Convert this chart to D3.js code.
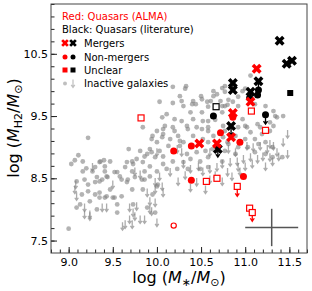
<!DOCTYPE html>
<html>
<head>
<meta charset="utf-8">
<script src="https://cdn.jsdelivr.net/npm/d3@7"></script>
<style>
  body { margin: 0; background: #fff; }
  svg text { font-family: "DejaVu Sans", sans-serif; }
</style>
</head>
<body>
<div id="chart"></div>
<script>
// inactive galaxies (detections), [log M*, log MH2]
let grayCircles = [
  [10.18,9.97],[10.33,9.98],[10.03,9.73],[10.18,9.71],[10.28,9.74],[10.41,9.74],[10.50,9.82],[10.51,9.77],
  [10.44,9.69],[10.57,9.73],[11.06,10.15],[10.77,9.98],[10.74,9.95],[10.77,9.89],[10.64,9.90],[10.68,9.85],
  [10.97,9.90],[10.92,9.81],[11.00,9.94],[10.61,9.74],[10.72,9.74],[10.81,9.76],[10.77,9.66],[10.86,9.73],
  [11.11,9.69],[10.64,9.82],[10.26,9.82],[10.32,9.94],[10.30,9.66],[10.40,9.69],[10.38,9.56],[10.51,9.56],
  [10.58,9.65],[10.74,9.66],[10.80,9.68],[10.92,9.66],[11.23,9.66],[11.32,9.58],[11.34,9.50],[10.11,9.53],
  [10.06,9.48],[10.20,9.45],[10.28,9.42],[10.41,9.45],[10.52,9.42],[10.66,9.44],[10.58,9.32],[10.45,9.32],
  [10.34,9.34],[10.18,9.32],[10.09,9.34],[10.00,9.26],[9.95,9.18],[10.07,9.21],[10.15,9.13],[10.24,9.18],
  [10.30,9.08],[10.52,9.13],[10.77,9.26],[10.92,9.32],[11.02,9.32],[11.14,9.37],[11.06,9.24],[11.19,9.21],
  [11.28,9.26],[11.32,9.34],[11.11,9.13],[11.00,9.13],[10.89,9.18],[10.80,9.08],[10.58,9.08],[10.13,9.02],
  [10.00,9.08],[9.84,9.32],[10.07,9.29],[10.20,9.26],[10.35,9.29],[10.51,9.29],[10.06,9.16],[10.26,9.10],
  [10.41,9.18],[9.94,9.13],[10.26,9.02],[9.81,8.94],[9.92,8.97],[10.03,8.94],[9.86,8.85],[9.98,8.84],
  [10.07,8.85],[10.34,8.89],[10.45,8.92],[10.55,8.94],[9.77,8.81],[9.73,8.73],[9.84,8.76],[9.92,8.69],
  [10.07,8.73],[10.18,8.77],[10.30,8.76],[10.38,8.81],[10.49,8.77],[10.58,8.84],[9.72,8.61],[9.86,8.61],
  [10.00,8.61],[10.11,8.65],[10.23,8.65],[10.35,8.65],[10.49,8.65],[10.58,8.68],[10.58,9.42],[10.74,9.56],
  [10.75,9.34],[10.97,9.45],[11.00,9.34],[11.17,9.32],[11.36,9.48],[11.28,9.40],[11.43,9.50],[10.58,9.26],
  [10.64,9.18],[10.75,9.16],[10.81,9.05],[10.92,9.00],[11.03,9.00],[11.15,9.05],[11.23,9.08],[11.31,9.00],
  [10.63,8.97],[10.77,8.94],[10.89,8.89],[11.11,8.92],[11.23,8.89],[11.31,8.84],[11.42,8.84],[10.74,8.77],
  [9.22,9.15],[9.68,8.97],[9.11,8.87],[9.07,8.79],[9.16,8.77],[9.03,8.73],[9.36,8.77],[9.40,8.79],
  [9.47,8.77],[9.66,8.76],[9.72,8.77],[9.41,8.69],[9.20,8.66],[9.30,8.68],[9.41,8.61],[9.55,8.60],
  [9.64,8.68],[9.09,8.45],[9.18,8.48],[9.22,8.40],[9.32,8.52],[9.38,8.48],[9.44,8.52],[9.60,8.48],
  [9.67,8.48],[9.15,8.24],[9.22,8.29],[9.30,8.24],[9.35,8.19],[9.43,8.21],[9.50,8.19],[9.60,8.21],
  [9.09,8.03],[9.13,8.08],[9.32,8.00],[9.55,7.95],[9.00,7.69],[9.16,8.61],[9.27,8.61],[9.35,8.76],
  [9.89,8.89],[9.94,8.92],[9.30,8.44],[9.35,8.45],[9.43,8.53],[9.52,8.60],[9.58,8.53],[9.75,8.52],
  [9.83,8.48],[9.92,8.53],[9.24,8.13],[9.41,8.19],[9.52,8.19],[9.55,8.08],[9.35,8.27],[9.47,8.32],
  [9.66,8.44],[9.72,8.32],[9.84,8.32],[10.00,8.37],[9.95,8.24],[9.73,8.08],[9.89,8.03],[9.86,8.48],
  [10.01,8.40],[9.98,7.95]
];

// inactive galaxies (upper limits)
let grayLimits = [
  [9.27,8.68],[9.50,8.40],[9.07,8.32],[9.09,8.21],[9.18,7.92],[9.24,7.92],[9.38,8.03],[9.43,8.03],
  [9.69,8.03],[9.61,7.73],[9.08,8.40],[9.24,7.89],[9.18,8.03],[9.64,7.76],[9.69,7.84],[9.75,7.89],
  [9.81,7.84],[9.86,7.84],[9.94,7.97],[9.98,8.11],[9.75,8.61],[9.81,8.56],[9.89,8.27],[9.98,8.32],
  [10.06,8.37],[10.07,8.27],[9.92,8.13],[9.77,8.05],[9.73,7.95],[10.00,7.79],[9.72,7.76],
  [10.00,8.92],[10.23,8.97],[10.28,8.92],[10.60,8.92],[10.81,8.97],[10.89,8.92],[11.02,9.02],[11.09,9.00],
  [11.17,9.02],[11.25,8.97],[11.32,9.02],[11.43,9.08],[11.36,8.92],[11.48,9.21],[10.30,8.73],[10.38,8.65],
  [10.47,8.69],[10.52,8.61],[10.60,8.65],[10.68,8.68],[10.74,8.73],[10.83,8.76],[10.91,8.77],[10.98,8.81],
  [11.06,8.84],[11.14,8.81],[11.20,8.85],[11.28,8.84],[11.38,8.85],[11.48,8.89],[10.80,8.60],[10.85,8.53],
  [10.94,8.61],[10.03,8.53],[10.15,8.60],[9.98,8.44],[9.92,8.00],[10.45,8.44],[10.60,8.48],[10.74,8.45],
  [10.66,8.55],[10.92,8.68],[11.00,8.69],[11.08,8.73],[11.23,8.69],[11.31,8.77],[11.28,9.05],[10.55,8.32],
  [10.38,8.35],[10.24,8.45],[10.32,8.55]
];

// quasars: red = ALMA, black = literature
let redMergers = [[11.13,10.26],[11.06,9.73],[10.86,9.55],[10.84,9.16],[10.48,9.06],[10.68,9.06]];
let redNonMergers = [[10.86,9.48],[10.72,9.23],[10.19,8.94],[10.39,9.02],[10.94,9.08],[10.39,8.47],[10.98,8.53]];
let redNonMergersOpen = [[10.19,7.74]];
let redUnclear = [[9.82,9.47],[11.07,9.58],[11.23,9.27],[10.56,8.45],[10.68,8.50],[10.91,8.37],[11.05,8.02],[11.08,7.95]];
let blackMergers = [[11.39,10.71],[11.47,10.34],[11.53,10.39],[10.86,10.03],[10.86,9.92],[11.15,10.06],
  [11.06,9.89],[10.84,9.34],[10.69,8.97]];
let blackNonMergers = [[11.15,9.92],[11.14,9.84],[11.05,9.79],[10.64,9.50],[11.23,9.52]];
let blackUnclear = [[11.51,9.87]];
let blackUnclearOpen = [[10.67,9.65]];

// vertical links between two estimates of the same quasar: x, y from, y to, colour, upper limit?
let links = [
  [10.86,10.03,9.92,"black",false],
  [11.15,10.06,9.84,"black",false],
  [11.06,9.89,9.79,"black",false],
  [11.23,9.52,9.37,"black",true],
  [10.84,9.34,9.19,"black",true],
  [10.69,8.97,8.84,"black",true],
  [10.91,8.37,8.21,"red",true],
  [11.08,7.95,7.81,"red",true]
];

// typical uncertainty
let errBar = {x: 11.3, y: 7.71, dx: 0.3, dy: 0.3};

let xMajor = [9.0, 9.5, 10.0, 10.5, 11.0, 11.5];
let yMajor = [7.5, 8.5, 9.5, 10.5];

let W = 312, H = 291;
let RED = "#ff0000";
let GRAY = "#808080";

let svg = d3.select("#chart").append("svg").attr("width", W).attr("height", H);

let x = d3.scaleLinear().domain([8.8, 11.7]).range([51, 307]);
let y = d3.scaleLinear().domain([7.3, 11.3]).range([253, 4]);

let xMinor = d3.range(88, 118).map(d => d / 10);
let yMinor = d3.range(0, 20).map(d => +(7.5 + d * 0.2).toFixed(1)).filter(d => d <= 11.3);

let plot = svg.append("g");

// arrow drawn centred on the point, pointing down
let arrowPath = (px, py, h) => {
  let t = py - h / 2, b = py + h / 2;
  return `M${px},${t}L${px},${b}M${px-1.8},${b-2.6}L${px},${b}L${px+1.8},${b-2.6}`;
};

plot.selectAll(".gc").data(grayCircles).enter().append("circle")
  .attr("cx", d => x(d[0])).attr("cy", d => y(d[1])).attr("r", 2.4)
  .attr("fill", GRAY).attr("fill-opacity", 0.6);

plot.selectAll(".gl").data(grayLimits).enter().append("path")
  .attr("d", d => arrowPath(x(d[0]), y(d[1]), 8))
  .attr("stroke", GRAY).attr("stroke-opacity", 0.65).attr("stroke-width", 1.3).attr("fill", "none");

// links
plot.selectAll(".lk").data(links).enter().append("path")
  .attr("d", d => {
    let px = x(d[0]), y1 = y(d[1]), y2 = y(d[2]);
    let p = `M${px},${y1}L${px},${y2}`;
    if (d[4]) p += `M${px-2},${y2-3}L${px},${y2}L${px+2},${y2-3}`;
    return p;
  })
  .attr("stroke", d => d[3] === "red" ? RED : "black").attr("stroke-width", 1.3).attr("fill", "none");

let xSym = d3.symbol().type(d3.symbolCross).size(62);
let drawX = (data, color, g) => g.selectAll(null).data(data).enter().append("path")
  .attr("d", xSym)
  .attr("transform", d => `translate(${x(d[0])},${y(d[1])}) rotate(45)`)
  .attr("fill", color);
let drawC = (data, color, g, open) => g.selectAll(null).data(data).enter().append("circle")
  .attr("cx", d => x(d[0])).attr("cy", d => y(d[1])).attr("r", open ? 2.6 : 3.5)
  .attr("fill", open ? "white" : color).attr("stroke", open ? color : "none").attr("stroke-width", 1.2);
let drawS = (data, color, g, open) => g.selectAll(null).data(data).enter().append("rect")
  .attr("x", d => x(d[0]) - 3).attr("y", d => y(d[1]) - 3).attr("width", 6).attr("height", 6)
  .attr("fill", open ? "white" : color).attr("stroke", color).attr("stroke-width", open ? 1.2 : 0);

drawS(redUnclear, RED, plot, true);
drawC(redNonMergersOpen, RED, plot, true);
drawS(blackUnclearOpen, "black", plot, true);
drawS(blackUnclear, "black", plot, false);
drawC(blackNonMergers, "black", plot, false);
drawX(blackMergers, "black", plot);
drawC(redNonMergers, RED, plot, false);
drawX(redMergers, RED, plot);

// error cross
plot.append("line").attr("x1", x(errBar.x - errBar.dx)).attr("x2", x(errBar.x + errBar.dx))
  .attr("y1", y(errBar.y)).attr("y2", y(errBar.y)).attr("stroke", "#555").attr("stroke-width", 1.5);
plot.append("line").attr("x1", x(errBar.x)).attr("x2", x(errBar.x))
  .attr("y1", y(errBar.y - errBar.dy)).attr("y2", y(errBar.y + errBar.dy)).attr("stroke", "#555").attr("stroke-width", 1.5);

// axes, ticks inward
let styleAxis = g => {
  g.select(".domain").remove();
  g.selectAll("line").attr("stroke", "#222");
  g.selectAll("text").attr("font-size", 11).attr("fill", "#000").attr("font-family", "DejaVu Sans");
};
svg.append("g").attr("transform", "translate(0,253)")
  .call(d3.axisBottom(x).tickValues(xMinor).tickSize(-3.5).tickFormat("")).call(styleAxis);
svg.append("g").attr("transform", "translate(0,253)")
  .call(d3.axisBottom(x).tickValues(xMajor).tickSize(-6).tickPadding(5).tickFormat(d3.format(".1f"))).call(styleAxis);
svg.append("g").attr("transform", "translate(51,0)")
  .call(d3.axisLeft(y).tickValues(yMinor).tickSize(-3.5).tickFormat("")).call(styleAxis);
svg.append("g").attr("transform", "translate(51,0)")
  .call(d3.axisLeft(y).tickValues(yMajor).tickSize(-6).tickPadding(3).tickFormat(d3.format(".1f"))).call(styleAxis);

svg.append("rect").attr("x", 51).attr("y", 4).attr("width", 256).attr("height", 249)
  .attr("fill", "none").attr("stroke", "#444").attr("stroke-width", 1);

// axis labels
let xl = svg.append("text").attr("x", 179).attr("y", 283).attr("text-anchor", "middle").attr("font-size", 16);
xl.append("tspan").text("log (");
xl.append("tspan").attr("font-style", "italic").text("M");
xl.append("tspan").attr("font-size", 11).attr("dy", 3).text("∗");
xl.append("tspan").attr("dy", -3).text("/");
xl.append("tspan").attr("font-style", "italic").text("M");
xl.append("tspan").attr("font-size", 11).attr("dy", 3).text("⊙");
xl.append("tspan").attr("dy", -3).text(")");

let yl = svg.append("text").attr("transform", "translate(19,128) rotate(-90)").attr("text-anchor", "middle").attr("font-size", 16);
yl.append("tspan").text("log (");
yl.append("tspan").attr("font-style", "italic").text("M");
yl.append("tspan").attr("font-size", 11).attr("dy", 3).text("H2");
yl.append("tspan").attr("dy", -3).text("/");
yl.append("tspan").attr("font-style", "italic").text("M");
yl.append("tspan").attr("font-size", 11).attr("dy", 3).text("⊙");
yl.append("tspan").attr("dy", -3).text(")");

// legend
let leg = svg.append("g");
let legText = (ty, txt, col) => leg.append("text").attr("x", ty[0]).attr("y", ty[1])
  .attr("dominant-baseline", "central").attr("font-size", 10).attr("fill", col).text(txt);
legText([62, 16], "Red: Quasars (ALMA)", RED);
legText([62, 29.5], "Black: Quasars (literature)", "black");
legText([84, 43], "Mergers", "black");
legText([84, 57], "Non-mergers", "black");
legText([84, 70], "Unclear", "black");
legText([84, 83.5], "Inactive galaxies", "black");

let lsx = d3.symbol().type(d3.symbolCross).size(36);
[[65, RED], [73, "black"]].forEach(([lx, c]) => {
  leg.append("path").attr("d", lsx).attr("transform", `translate(${lx},43) rotate(45)`).attr("fill", c);
  leg.append("circle").attr("cx", lx).attr("cy", 57).attr("r", 2.5).attr("fill", c);
  leg.append("rect").attr("x", lx - 2.5).attr("y", 67.5).attr("width", 5).attr("height", 5).attr("fill", c);
});
leg.append("circle").attr("cx", 65).attr("cy", 83.5).attr("r", 2).attr("fill", GRAY).attr("fill-opacity", 0.5);
leg.append("path").attr("d", arrowPath(73, 83.5, 8)).attr("stroke", GRAY).attr("stroke-opacity", 0.5)
  .attr("stroke-width", 1.2).attr("fill", "none");
</script>
</body>
</html>
